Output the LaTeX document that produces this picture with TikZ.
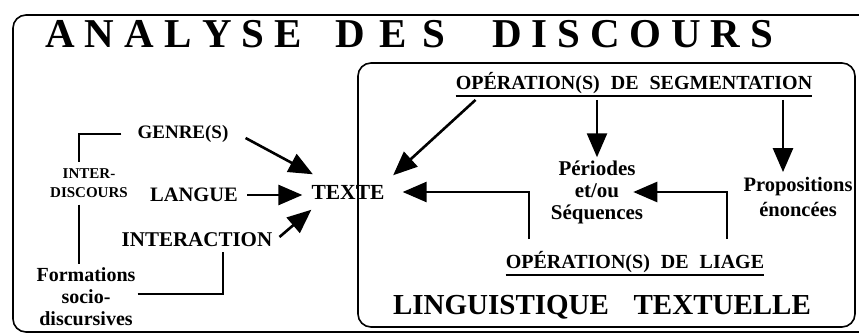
\documentclass[tikz,border=0pt]{standalone}
\usepackage{fontspec}
\setmainfont{Liberation Serif}
\usetikzlibrary{arrows.meta}
\begin{document}
\begin{tikzpicture}[x=1pt,y=-1pt,
  lbl/.style={inner sep=0pt, font=\bfseries\fontsize{20}{22}\selectfont, align=center},
  smalllbl/.style={inner sep=0pt, font=\bfseries\fontsize{15}{19}\selectfont, align=center},
  ln/.style={line width=2.2pt},
  arr/.style={line width=2.6pt, -{Triangle[length=24pt,width=20pt]}},
  uline/.style={line width=1.3pt},
  boxline/.style={line width=1.6pt, rounded corners=13pt}]
\useasboundingbox (0,0) rectangle (859,334);
\clip (0,0) rectangle (859,334);
\fill[white] (0,0) rectangle (859,334);
\draw[boxline] (13,15) rectangle (885,332);
\draw[boxline] (358,63) rectangle (855,327);
% title
\node[anchor=base west, inner sep=0pt, font=\bfseries\fontsize{41}{41}\selectfont] (t1) at (45,48)
  {\makebox[257pt][s]{A\hfill N\hfill A\hfill L\hfill Y\hfill S\hfill E}};
\node[anchor=base west, inner sep=0pt, font=\bfseries\fontsize{41}{41}\selectfont] (t2) at (335,48)
  {\makebox[110pt][s]{D\hfill E\hfill S}};
\node[anchor=base west, inner sep=0pt, font=\bfseries\fontsize{41}{41}\selectfont] (t3) at (492,48)
  {\makebox[281pt][s]{D\hfill I\hfill S\hfill C\hfill O\hfill U\hfill R\hfill S}};
% left side
\node[lbl, font=\bfseries\fontsize{19}{22}\selectfont] (genre) at (183,134) {GENRE(S)};
\node[lbl, font=\bfseries\fontsize{20.5}{22}\selectfont] (langue) at (194,195) {LANGUE};
\node[lbl, font=\bfseries\fontsize{21}{22}\selectfont] (interaction) at (197,240) {INTERACTION};
\node[lbl, font=\bfseries\fontsize{21.5}{22}\selectfont] (texte) at (348,192) {TEXTE};
\node[smalllbl] (inter) at (89,183) {INTER-\\DISCOURS};
\node[lbl, font=\bfseries\fontsize{20}{22}\selectfont] (form) at (86,297) {Formations\\socio-\\discursives};
% right side
\node[lbl] (seg) at (634,83) {OPÉRATION(S)\hspace{0.3em} DE\hspace{0.3em} SEGMENTATION};
\node[lbl, font=\bfseries\fontsize{21}{22}\selectfont] (per) at (597,192) {Périodes\\et/ou\\Séquences};
\node[lbl, font=\bfseries\fontsize{20.5}{25}\selectfont] (prop) at (798,197) {Propositions\\énoncées};
\node[lbl] (liage) at (635,262) {OPÉRATION(S)\hspace{0.3em} DE\hspace{0.3em} LIAGE};
\node[lbl, font=\bfseries\fontsize{29}{30}\selectfont] (ling) at (602,307) {LINGUISTIQUE\hspace{0.6em} TEXTUELLE};
% underlines
\draw[uline] ([yshift=-2pt]seg.south west) -- ([yshift=-2pt]seg.south east);
\draw[uline] ([yshift=-2pt]liage.south west) -- ([yshift=-2pt]liage.south east);
% connectors left
\draw[ln] ([xshift=-16pt]genre.west) -| ([xshift=-10pt,yshift=6pt]inter.north);
\draw[ln] ([xshift=-10pt,yshift=-7pt]inter.south) -- ([xshift=-7pt,yshift=4pt]form.north);
\draw[ln] ([xshift=2pt,yshift=3pt]form.east) -| ([xshift=26pt,yshift=-5pt]interaction.south);
\draw[arr] ([xshift=17pt,yshift=-4pt]genre.east) -- ([xshift=1.5pt,yshift=10.5pt]texte.north west);
\draw[arr] ([xshift=9pt]langue.east) -- ([xshift=-9pt]langue.east -| texte.west);
\draw[arr] ([xshift=7pt,yshift=3pt]interaction.east) -- ([yshift=-10.5pt]texte.south west);
% connectors right
\draw[arr] ([xshift=20pt,yshift=-6pt]seg.south west) -- ([xshift=8.5pt,yshift=9.5pt]texte.north east);
\draw[arr] ([yshift=-6pt]seg.south -| per.north) -- ([yshift=3pt]per.north);
\draw[arr] ([yshift=-6pt]seg.south -| 783,0) -- ([xshift=-15pt,yshift=5pt]prop.north);
\draw[arr] ([xshift=92pt,yshift=12pt]liage.north) |- ([xshift=-10pt]per.east);
\draw[arr] ([xshift=-106pt,yshift=12pt]liage.north) |- ([xshift=18pt]texte.east);
\end{tikzpicture}
\end{document}
